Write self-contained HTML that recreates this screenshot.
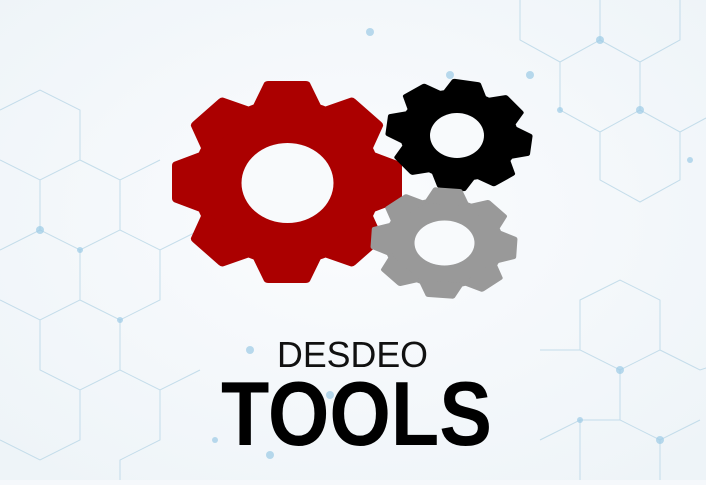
<!DOCTYPE html>
<html><head><style>html,body{margin:0;padding:0;background:#f5f8fb}</style></head><body>
<svg width="706" height="480" viewBox="0 0 706 480" xmlns="http://www.w3.org/2000/svg">
<defs>
<radialGradient id="bg" cx="0.5" cy="0.45" r="0.7"><stop offset="0" stop-color="#fbfcfe"/><stop offset="1" stop-color="#eef4f8"/></radialGradient>
<g id="gear">
<circle r="0.82"/>
<g id="t"><path d="M-0.32 -0.7 L-0.2 -0.98 Q-0.19 -1 -0.16 -1 L0.16 -1 Q0.19 -1 0.2 -0.98 L0.32 -0.7 Z"/></g>
<use href="#t" transform="rotate(45)"/><use href="#t" transform="rotate(90)"/><use href="#t" transform="rotate(135)"/>
<use href="#t" transform="rotate(180)"/><use href="#t" transform="rotate(225)"/><use href="#t" transform="rotate(270)"/><use href="#t" transform="rotate(315)"/>
</g>
</defs>
<rect width="706" height="480" fill="url(#bg)"/>
<g fill="none" stroke="#b8d6e6" stroke-width="1" opacity="0.8">
<path d="M520 0 L520 40 L560 62 L600 40 L600 0 M600 40 L640 62 L680 40 L680 0 M560 62 L560 110 L600 132 L640 110 L640 62 M640 110 L680 132 L706 118 M600 132 L600 180 L640 202 L680 180 L680 132"/>
<path d="M0 110 L40 90 L80 110 L80 160 L40 180 L0 160 M80 160 L120 180 L160 160 M40 180 L40 230 L80 250 L120 230 L120 180 M0 250 L40 230 M80 250 L80 300 L40 320 L0 300 M120 230 L160 250 L200 230 M80 300 L120 320 L160 300 L160 250 M40 320 L40 370 L80 390 L120 370 L120 320 M80 390 L80 440 L40 460 L0 440 M120 370 L160 390 L200 370 M160 390 L160 440 L120 460 L120 480"/>
<path d="M580 300 L620 280 L660 300 L660 350 L620 370 L580 350 Z M660 350 L700 370 L706 368 M620 370 L620 420 L660 440 L700 420 M580 420 L620 420 M540 350 L580 350 M540 440 L580 420 L580 480 M660 440 L660 480"/>
</g>
<g fill="#9ccbe6" opacity="0.7">
<circle cx="370" cy="32" r="4"/><circle cx="450" cy="75" r="4"/><circle cx="530" cy="75" r="4"/><circle cx="600" cy="40" r="4"/><circle cx="640" cy="110" r="4"/><circle cx="690" cy="160" r="3"/><circle cx="560" cy="110" r="3"/><circle cx="40" cy="230" r="4"/><circle cx="120" cy="320" r="3"/><circle cx="80" cy="250" r="3"/><circle cx="620" cy="370" r="4"/><circle cx="660" cy="440" r="4"/><circle cx="580" cy="420" r="3"/><circle cx="250" cy="350" r="4"/><circle cx="330" cy="395" r="4"/><circle cx="215" cy="440" r="3"/><circle cx="270" cy="455" r="4"/>
</g>
<g fill="#ab0000" transform="translate(287,182) scale(115,101)"><use href="#gear"/></g>
<ellipse cx="287.5" cy="183" rx="46" ry="40" fill="#f8fafc"/>
<g fill="#000" transform="translate(459,135) rotate(8) scale(73,55)"><use href="#gear"/></g>
<ellipse cx="457" cy="135.5" rx="27" ry="22.5" fill="#f8fafc"/>
<g fill="#999" transform="translate(444,243) rotate(4) scale(73,55)"><use href="#gear"/></g>
<ellipse cx="444.5" cy="243" rx="30" ry="22.5" fill="#f8fafc"/>
<text x="277" y="367" textLength="151" lengthAdjust="spacingAndGlyphs" font-family="Liberation Sans, sans-serif" font-size="36" fill="#111">DESDEO</text>
<text x="221" y="445" textLength="271" lengthAdjust="spacingAndGlyphs" font-family="Liberation Sans, sans-serif" font-weight="bold" font-size="91" fill="#000">TOOLS</text>
</svg>
</body></html>
